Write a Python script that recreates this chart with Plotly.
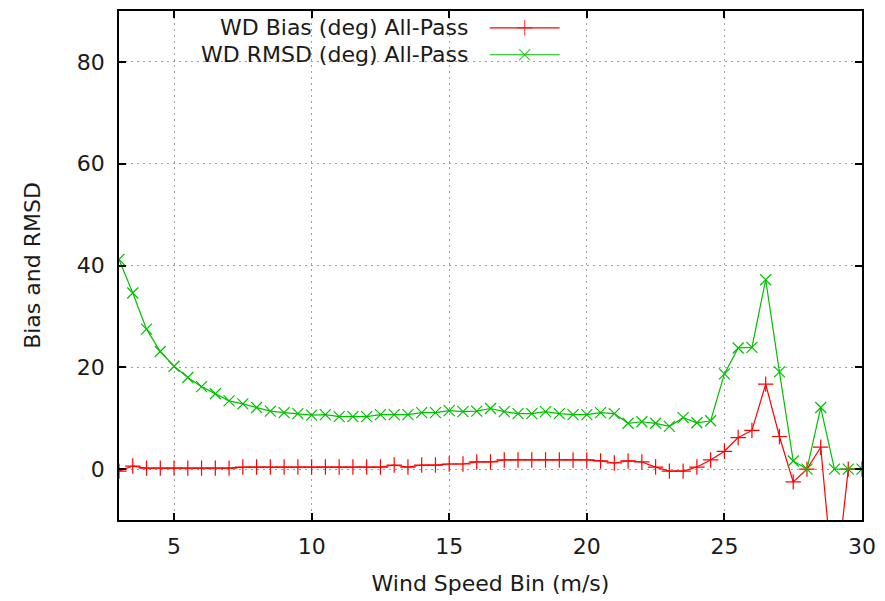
import plotly.graph_objects as go

# Wind speed bins (m/s)
wind_speed = [3.0, 3.5, 4.0, 4.5, 5.0, 5.5, 6.0, 6.5, 7.0, 7.5,
              8.0, 8.5, 9.0, 9.5, 10.0, 10.5, 11.0, 11.5, 12.0, 12.5,
              13.0, 13.5, 14.0, 14.5, 15.0, 15.5, 16.0, 16.5, 17.0, 17.5,
              18.0, 18.5, 19.0, 19.5, 20.0, 20.5, 21.0, 21.5, 22.0, 22.5,
              23.0, 23.5, 24.0, 24.5, 25.0, 25.5, 26.0, 26.5, 27.0, 27.5,
              28.0, 28.5, 29.0, 29.5, 30.0]

# Wind direction bias (deg), all passes
wd_bias = [-0.4, 0.6, 0.2, 0.2, 0.2, 0.2, 0.2, 0.2, 0.2, 0.4,
           0.4, 0.4, 0.4, 0.4, 0.4, 0.4, 0.4, 0.4, 0.4, 0.4,
           0.8, 0.4, 0.8, 0.8, 1.0, 1.0, 1.4, 1.4, 1.8, 1.8,
           1.8, 1.8, 1.8, 1.8, 1.8, 1.6, 1.2, 1.6, 1.4, 0.4,
           -0.4, -0.4, 0.4, 1.8, 3.5, 6.2, 7.6, 16.7, 6.4, -2.5,
           0.0, 4.3, -25.0, 0.0, 0.0]

# Wind direction RMSD (deg), all passes
wd_rmsd = [41.2, 34.6, 27.5, 23.1, 20.2, 18.0, 16.2, 14.8, 13.4, 12.8,
           12.1, 11.4, 11.1, 10.9, 10.6, 10.7, 10.3, 10.3, 10.3, 10.7,
           10.7, 10.7, 11.1, 11.1, 11.5, 11.3, 11.4, 11.9, 11.3, 10.9,
           10.9, 11.3, 10.9, 10.7, 10.7, 11.1, 10.9, 9.0, 9.3, 9.0,
           8.4, 10.1, 9.1, 9.5, 18.7, 23.8, 23.9, 37.2, 19.1, 1.6,
           0.0, 12.1, 0.0, 0.0, 0.0]

series_names = ["WD Bias (deg) All-Pass", "WD RMSD (deg) All-Pass"]
series_colors = ["#ff0000", "#00c000"]
series_symbols = ["cross-thin", "x-thin"]

FONT = "DejaVu Sans"
TEXT_COLOR = "#1a1a1a"

fig = go.Figure()

for name, values, color, symbol in zip(series_names, [wd_bias, wd_rmsd],
                                       series_colors, series_symbols):
    fig.add_trace(go.Scatter(
        x=wind_speed, y=values, name=name, mode="lines+markers",
        line=dict(color=color, width=1.2),
        marker=dict(symbol=symbol, size=11, color=color,
                    line=dict(color=color, width=1.2)),
        showlegend=False,
    ))

# Key in the top-left area: right-aligned labels with line samples on the right
key_rows = [0.967, 0.914]
for name, color, symbol, ky in zip(series_names, series_colors,
                                   series_symbols, key_rows):
    fig.add_trace(go.Scatter(
        x=[0.499, 0.546, 0.593], y=[ky, ky, ky], xaxis="x2", yaxis="y2",
        mode="lines+markers", hoverinfo="skip", showlegend=False,
        line=dict(color=color, width=1.2),
        marker=dict(symbol=symbol, size=[0, 11, 0], color=color,
                    line=dict(color=color, width=1.2)),
    ))
    fig.add_annotation(
        x=0.4726, y=ky, xref="paper", yref="paper", text=name,
        showarrow=False, xanchor="right", yanchor="middle",
        font=dict(family=FONT, size=22, color=TEXT_COLOR),
    )

fig.add_shape(type="rect", xref="paper", yref="paper",
              x0=0.024, x1=0.611, y0=0.887, y1=1.0,
              fillcolor="white", line=dict(width=0), layer="between")

axis_common = dict(
    showline=True, linecolor="black", linewidth=1.5, mirror="allticks",
    ticks="inside", ticklen=7, tickwidth=1.5, tickcolor="black",
    showgrid=True, gridcolor="#a0a0a0", gridwidth=1, griddash="2px,4px",
    zeroline=False,
    tickfont=dict(family=FONT, size=22, color=TEXT_COLOR),
)

fig.update_layout(
    width=885, height=601,
    margin=dict(l=119, r=17, t=9, b=79),
    paper_bgcolor="white", plot_bgcolor="white",
    font=dict(family=FONT, size=22, color=TEXT_COLOR),
    xaxis=dict(
        range=[3, 30], tick0=0, dtick=5, ticklabelstandoff=6,
        title=dict(text="Wind Speed Bin (m/s)", standoff=17,
                   font=dict(family=FONT, size=22, color=TEXT_COLOR)),
        **axis_common,
    ),
    yaxis=dict(
        range=[-10, 90], tick0=0, dtick=20, ticklabelstandoff=8,
        title=dict(text="Bias and RMSD", standoff=30,
                   font=dict(family=FONT, size=22, color=TEXT_COLOR)),
        **axis_common,
    ),
    xaxis2=dict(range=[0, 1], overlaying="x", visible=False),
    yaxis2=dict(range=[0, 1], overlaying="y", visible=False),
)

fig.write_html("out.html")
